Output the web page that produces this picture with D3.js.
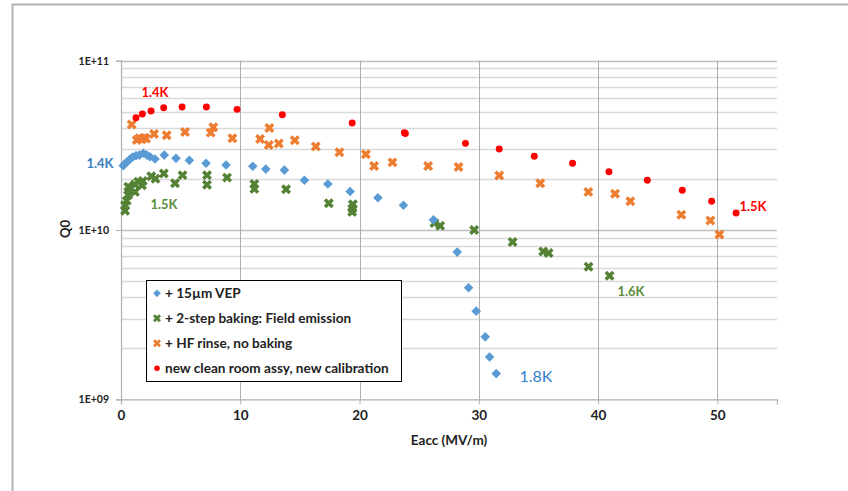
<!DOCTYPE html>
<html>
<head>
<meta charset="utf-8">
<script src="https://cdn.jsdelivr.net/npm/d3@7/dist/d3.min.js"></script>
<style>
  html, body { margin: 0; padding: 0; background: #fff; }
  svg { display: block; font-family: Lato, "Open Sans", sans-serif; }
</style>
</head>
<body>
<svg id="chart" width="848" height="491"></svg>
<script>
// Q0 versus accelerating gradient for four cavity treatments
const vepE = [0.19, 0.34, 0.53, 0.76, 0.98, 1.26, 1.54, 1.87, 2.16, 2.43, 2.85, 3.63, 4.61, 5.73, 7.13, 8.81,
  11.05, 12.14, 13.70, 15.38, 17.34, 19.21, 21.54, 23.68, 26.20, 28.19, 29.14, 29.78, 30.54, 30.90, 31.46];
const vepQ = [2.40e10, 2.47e10, 2.53e10, 2.63e10, 2.70e10, 2.75e10, 2.77e10, 2.84e10, 2.77e10, 2.71e10, 2.63e10,
  2.77e10, 2.65e10, 2.58e10, 2.48e10, 2.42e10, 2.38e10, 2.29e10, 2.26e10, 1.97e10, 1.87e10, 1.69e10, 1.55e10,
  1.40e10, 1.15e10, 7.41e9, 4.56e9, 3.32e9, 2.34e9, 1.78e9, 1.42e9];

const bakeE = [0.34, 0.34, 0.48, 0.59, 0.80, 0.61, 1.17, 1.17, 1.45, 1.82, 1.76, 2.54, 2.89, 3.59, 4.53, 5.16,
  7.21, 7.21, 8.89, 11.18, 11.18, 13.84, 17.42, 19.44, 19.40, 19.38, 26.28, 26.76, 29.61, 32.83, 35.40, 35.85,
  39.20, 40.96];
const bakeQ = [1.30e10, 1.40e10, 1.49e10, 1.61e10, 1.77e10, 1.80e10, 1.68e10, 1.86e10, 1.93e10, 1.95e10, 1.84e10,
  2.08e10, 2.01e10, 2.16e10, 1.89e10, 2.11e10, 2.11e10, 1.85e10, 2.04e10, 1.87e10, 1.75e10, 1.74e10, 1.44e10,
  1.42e10, 1.34e10, 1.28e10, 1.10e10, 1.06e10, 1.00e10, 8.49e9, 7.46e9, 7.31e9, 6.07e9, 5.37e9];

const hfE = [0.90, 1.32, 1.54, 1.74, 1.95, 2.10, 2.77, 3.83, 5.37, 7.52, 7.74, 9.34, 11.66, 12.44, 12.39, 13.23,
  14.57, 16.33, 18.31, 20.53, 21.22, 22.76, 25.75, 28.30, 31.71, 35.15, 39.18, 41.42, 42.70, 46.98, 49.41, 50.17];
const hfQ = [4.20e10, 3.40e10, 3.48e10, 3.44e10, 3.51e10, 3.47e10, 3.69e10, 3.63e10, 3.79e10, 3.76e10, 4.05e10,
  3.48e10, 3.45e10, 4.01e10, 3.18e10, 3.24e10, 3.39e10, 3.11e10, 2.88e10, 2.80e10, 2.39e10, 2.51e10, 2.39e10,
  2.36e10, 2.10e10, 1.89e10, 1.68e10, 1.64e10, 1.48e10, 1.23e10, 1.14e10, 9.4e9];

const cleanE = [1.26, 1.79, 2.52, 3.58, 5.12, 7.16, 9.73, 13.53, 19.38, 23.76, 23.84, 28.88, 31.71, 34.65, 37.86,
  40.91, 44.13, 47.06, 49.52, 51.57];
const cleanQ = [4.61e10, 4.84e10, 5.05e10, 5.28e10, 5.33e10, 5.33e10, 5.16e10, 4.80e10, 4.29e10, 3.76e10, 3.72e10,
  3.25e10, 3.01e10, 2.73e10, 2.48e10, 2.21e10, 1.97e10, 1.72e10, 1.48e10, 1.26e10];

const seriesNames = ["+ 15µm VEP", "+ 2-step baking: Field emission", "+ HF rinse, no baking",
  "new clean room assy, new calibration"];
const xTicks = [0, 10, 20, 30, 40, 50];
const yTicks = [1e9, 1e10, 1e11];
const yTickLabels = ["1E+09", "1E+10", "1E+11"];

const svg = d3.select("#chart");
const M = { left: 121, right: 777, top: 60.7, bottom: 399.4 };

const x = d3.scaleLinear().domain([0, 55]).range([M.left, M.right]);
const y = d3.scaleLog().domain([1e9, 1e11]).range([M.bottom, M.top]);

// outer frame (left and top edges only)
svg.append("path").attr("d", "M12.5,491 V4.5 H848").attr("fill", "none")
  .attr("stroke", "#b4b4b4").attr("stroke-width", 2);

// minor horizontal gridlines 2..9 per decade
const minor = [];
[1e9, 1e10].forEach(d => { for (let k = 2; k <= 9; k++) minor.push(d * k); });
svg.append("g").selectAll("line").data(minor).join("line")
  .attr("x1", M.left).attr("x2", M.right)
  .attr("y1", d => Math.round(y(d)) + 0.5).attr("y2", d => Math.round(y(d)) + 0.5)
  .attr("stroke", "#d9d9d9").attr("stroke-width", 1.5);

// major horizontal gridlines
svg.append("g").selectAll("line").data([1e10, 1e11]).join("line")
  .attr("x1", M.left).attr("x2", M.right)
  .attr("y1", d => Math.round(y(d)) + 0.5).attr("y2", d => Math.round(y(d)) + 0.5)
  .attr("stroke", "#bfbfbf").attr("stroke-width", 1.5);

// vertical gridlines
svg.append("g").selectAll("line").data(xTicks.slice(1)).join("line")
  .attr("x1", d => Math.round(x(d)) + 0.5).attr("x2", d => Math.round(x(d)) + 0.5)
  .attr("y1", M.top).attr("y2", M.bottom)
  .attr("stroke", "#b0b0b0").attr("stroke-width", 1);

// axes
const xAxis = d3.axisBottom(x).tickValues(xTicks).tickSize(5).tickPadding(6).tickFormat(d3.format("d"));
const gx = svg.append("g").attr("transform", `translate(0,${M.bottom})`).call(xAxis);
gx.select(".domain").attr("stroke", "#b0b0b0").attr("stroke-width", 1.2);
gx.selectAll(".tick line").attr("stroke", "#b0b0b0");
gx.selectAll(".tick text").attr("font-size", 13.5).attr("font-weight", "bold").attr("fill", "#222")
  .attr("font-family", "Lato, sans-serif");

const yAxis = d3.axisLeft(y).tickValues(yTicks).tickSize(5).tickPadding(7)
  .tickFormat((d, i) => yTickLabels[i]);
const gy = svg.append("g").attr("transform", `translate(${M.left},0)`).call(yAxis);
gy.select(".domain").attr("stroke", "#b0b0b0").attr("stroke-width", 1.2);
gy.selectAll(".tick line").attr("stroke", "#b0b0b0");
gy.selectAll(".tick text").attr("font-size", 10.5).attr("font-weight", "bold").attr("fill", "#222")
  .attr("font-family", "Lato, sans-serif");

// axis titles
svg.append("text").attr("x", (M.left + M.right) / 2).attr("y", 445).attr("text-anchor", "middle")
  .attr("font-size", 13.5).attr("font-weight", "bold").attr("fill", "#222").text("Eacc (MV/m)");
svg.append("text").attr("transform", `translate(70,${y(1e10) - 1}) rotate(-90)`).attr("text-anchor", "middle")
  .attr("font-size", 13).attr("font-weight", "bold").attr("fill", "#222").text("Q0");

// marker shapes
const diamond = d3.symbol().type(d3.symbolSquare).size(46)();
const cross = d3.symbol().type(d3.symbolCross).size(62)();
const dot = d3.symbol().type(d3.symbolCircle).size(38)();

const series = [
  { e: hfE, q: hfQ, path: cross, rot: 45, color: "#ed7d31" },
  { e: bakeE, q: bakeQ, path: cross, rot: 45, color: "#548235" },
  { e: vepE, q: vepQ, path: diamond, rot: 45, color: "#5b9bd5" },
  { e: cleanE, q: cleanQ, path: dot, rot: 0, color: "#ff0000" }
];

series.forEach(s => {
  svg.append("g").selectAll("path").data(d3.range(s.e.length)).join("path")
    .attr("d", s.path)
    .attr("transform", i => `translate(${x(s.e[i])},${y(s.q[i])}) rotate(${s.rot})`)
    .attr("fill", s.color);
});

// temperature annotations
const ann = [
  { t: "1.4K", x: 155, y: 97, c: "#ff0000", fs: 13, w: "bold" },
  { t: "1.4K", x: 100, y: 168, c: "#3a7dc2", fs: 13, w: "bold" },
  { t: "1.5K", x: 164, y: 209, c: "#5b8c3a", fs: 13, w: "bold" },
  { t: "1.5K", x: 753, y: 211, c: "#ff0000", fs: 13, w: "bold" },
  { t: "1.6K", x: 631, y: 296, c: "#5b8c3a", fs: 13, w: "bold" },
  { t: "1.8K", x: 536, y: 382, c: "#2e7fd0", fs: 16, w: "normal" }
];
svg.append("g").selectAll("text").data(ann).join("text")
  .attr("x", d => d.x).attr("y", d => d.y).attr("text-anchor", "middle")
  .attr("font-size", d => d.fs).attr("font-weight", d => d.w).attr("fill", d => d.c)
  .text(d => d.t);

// legend
const lg = svg.append("g");
lg.append("rect").attr("x", 146.5).attr("y", 280.5).attr("width", 255).attr("height", 101)
  .attr("fill", "#fff").attr("stroke", "#000").attr("stroke-width", 1);
const legendOrder = [2, 1, 0, 3];
legendOrder.forEach((si, k) => {
  const s = series[si];
  const cy = 293.3 + k * 25;
  lg.append("path").attr("d", s.path)
    .attr("transform", `translate(157,${cy}) rotate(${s.rot}) scale(0.8)`)
    .attr("fill", s.color);
  lg.append("text").attr("x", 165).attr("y", cy + 4.5)
    .attr("font-size", 13.6).attr("font-weight", "bold").attr("fill", "#222")
    .text(seriesNames[k]);
});
</script>
</body>
</html>
